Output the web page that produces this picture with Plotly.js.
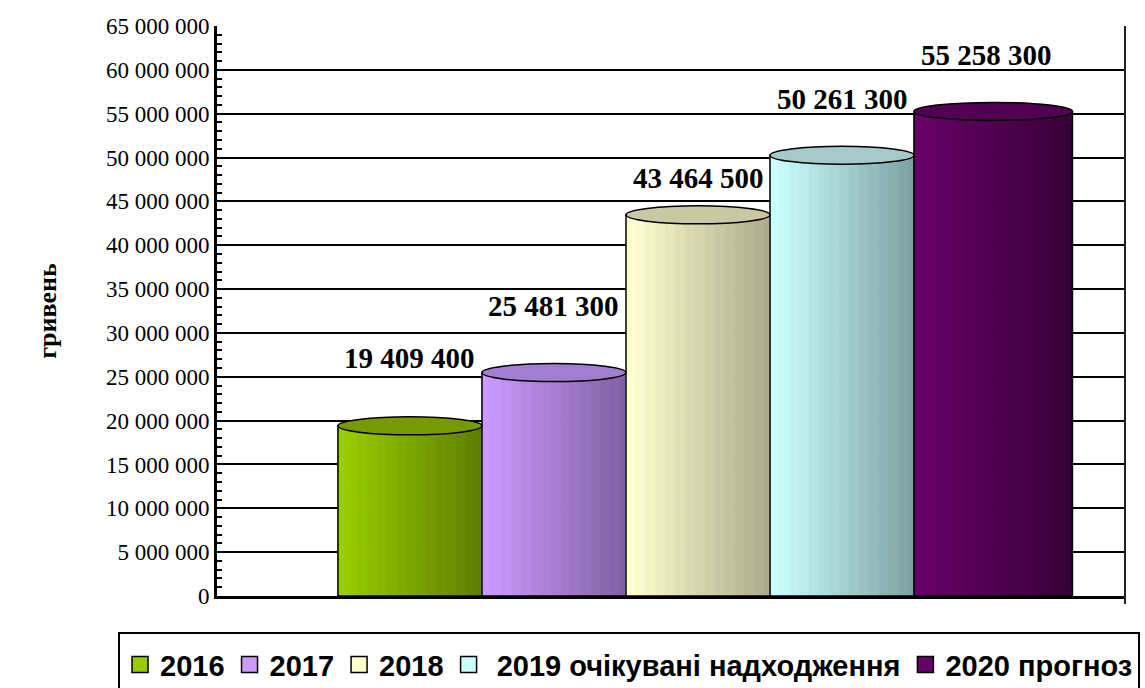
<!DOCTYPE html>
<html>
<head>
<meta charset="utf-8">
<script src="https://cdn.plot.ly/plotly-3.0.1.min.js"></script>
<style>
  html, body { margin: 0; padding: 0; background: #ffffff; overflow: hidden; }
  #chart { width: 1300px; height: 720px; }
</style>
</head>
<body>
<div id="chart"></div>
<script>
// ---- data ----
const years = ['2016', '2017', '2018', '2019', '2020'];
const legendNames = ['2016', '2017', '2018', ' 2019 очікувані надходження', '2020 прогноз'];
const values = [19409400, 25481300, 43464500, 50261300, 55258300];
const axisTitle = 'гривень';

// ---- styles ----
const SERIF = 'Liberation Serif';
const SANS = 'Liberation Sans';
const baseColors  = ['#99CC00', '#CC99FF', '#FFFFCC', '#CCFFFF', '#660066'];
const lightColors = ['#9ACD00', '#CC9AFF', '#FFFFD0', '#CCFFFF', '#680068'];
const darkColors  = ['#5A7800', '#7C5C9C', '#A6A486', '#789A9A', '#380038'];
const capColors   = ['#769A00', '#A27ED0', '#CAC8A2', '#A6CACA', '#520052'];
const labelLift   = [68, 67, 37, 56, 56];   // px above the bar top
const SLICES = 16;
const BAR_SPAN = 1.1;   // front face + visible side depth

function hexToRgb(h) {
  const n = parseInt(h.slice(1), 16);
  return [(n >> 16) & 255, (n >> 8) & 255, n & 255];
}
function lerpColor(a, b, t) {
  const A = hexToRgb(a), B = hexToRgb(b);
  const c = A.map((v, i) => Math.round(v + (B[i] - v) * t));
  return 'rgb(' + c.join(',') + ')';
}
function fmt(v) {
  return String(v).replace(/\B(?=(\d{3})+(?!\d))/g, ' ');
}

const traces = [];
const shapes = [];
const annotations = [];

years.forEach((yr, i) => {
  const w = BAR_SPAN / SLICES;
  for (let k = 0; k < SLICES; k++) {
    const col = lerpColor(lightColors[i], darkColors[i], k / (SLICES - 1));
    traces.push({
      type: 'bar',
      x: [i],
      y: [values[i]],
      width: [w],
      offset: [-0.5 + k * w],
      marker: { color: col, line: { color: col, width: 1 } },
      showlegend: false,
      hoverinfo: 'skip',
      legendgroup: yr
    });
  }
  // outline of the cylinder body
  traces.push({
    type: 'bar',
    x: [i],
    y: [values[i]],
    width: [BAR_SPAN],
    offset: [-0.5],
    marker: { color: 'rgba(0,0,0,0)', line: { color: '#000000', width: 1.5 } },
    showlegend: false,
    name: legendNames[i],
    hovertemplate: legendNames[i] + ': %{y:,d}<extra></extra>',
    legendgroup: yr
  });
  // top cap of the cylinder
  const last = i === years.length - 1;
  shapes.push({
    type: 'circle',
    layer: 'above',
    xref: 'x', yref: 'y',
    x0: i - 0.5, x1: last ? i - 0.5 + BAR_SPAN : i + 0.5,
    ysizemode: 'pixel', yanchor: values[i], y0: -9, y1: 9,
    fillcolor: capColors[i],
    line: { color: '#000000', width: 1.5 }
  });
  annotations.push({
    x: i, y: values[i], xref: 'x', yref: 'y',
    text: fmt(values[i]),
    showarrow: false,
    yshift: labelLift[i],
    yanchor: 'middle',
    font: { family: SERIF, size: 29, color: '#000000', weight: 'bold' }
  });
});

// legend entries
years.forEach((yr, i) => {
  traces.push({
    type: 'scatter',
    mode: 'markers',
    x: [null], y: [null],
    name: legendNames[i],
    legendgroup: yr,
    showlegend: true,
    marker: { symbol: 'square', size: 18, color: baseColors[i], line: { color: '#000000', width: 1.5 } },
    hoverinfo: 'skip'
  });
});

// right border of the plot area
shapes.push({
  type: 'line', xref: 'paper', yref: 'paper',
  x0: 1, x1: 1, y0: -0.014, y1: 1,
  line: { color: '#222222', width: 2 },
  layer: 'above'
});

const layout = {
  width: 1300,
  height: 720,
  margin: { l: 217, r: 175, t: 26, b: 124 },
  paper_bgcolor: '#ffffff',
  plot_bgcolor: '#ffffff',
  separators: ', ',
  barmode: 'overlay',
  showlegend: true,
  font: { family: SERIF, color: '#000000' },
  xaxis: {
    range: [-1.34, 4.965],
    showticklabels: false,
    ticks: '',
    showgrid: false,
    zeroline: false,
    showline: true,
    linecolor: '#000000',
    linewidth: 3,
    fixedrange: true
  },
  yaxis: {
    range: [0, 65000000],
    dtick: 5000000,
    tick0: 0,
    tickformat: ',d',
    ticks: 'inside',
    ticklen: 8,
    tickwidth: 2,
    tickcolor: '#000000',
    minor: { dtick: 1000000, ticks: 'inside', ticklen: 5, tickwidth: 2, tickcolor: '#000000', showgrid: false },
    showgrid: true,
    gridcolor: '#000000',
    gridwidth: 2,
    zeroline: false,
    showline: true,
    linecolor: '#000000',
    linewidth: 3,
    tickfont: { family: SERIF, size: 23, color: '#000000' },
    title: {
      text: axisTitle,
      standoff: 42,
      font: { family: SERIF, size: 26, color: '#000000', weight: 'bold' }
    },
    fixedrange: true
  },
  legend: {
    orientation: 'h',
    x: -0.109, xanchor: 'left',
    y: -0.063, yanchor: 'top',
    bgcolor: '#ffffff',
    bordercolor: '#000000',
    borderwidth: 2,
    font: { family: SANS, size: 29, color: '#000000', weight: 'bold' },
    title: { text: '\u00a0', side: 'top', font: { family: SANS, size: 4 } },
    traceorder: 'normal'
  },
  shapes: shapes,
  annotations: annotations
};

Plotly.newPlot('chart', traces, layout, { displayModeBar: false, staticPlot: true });
</script>
</body>
</html>
